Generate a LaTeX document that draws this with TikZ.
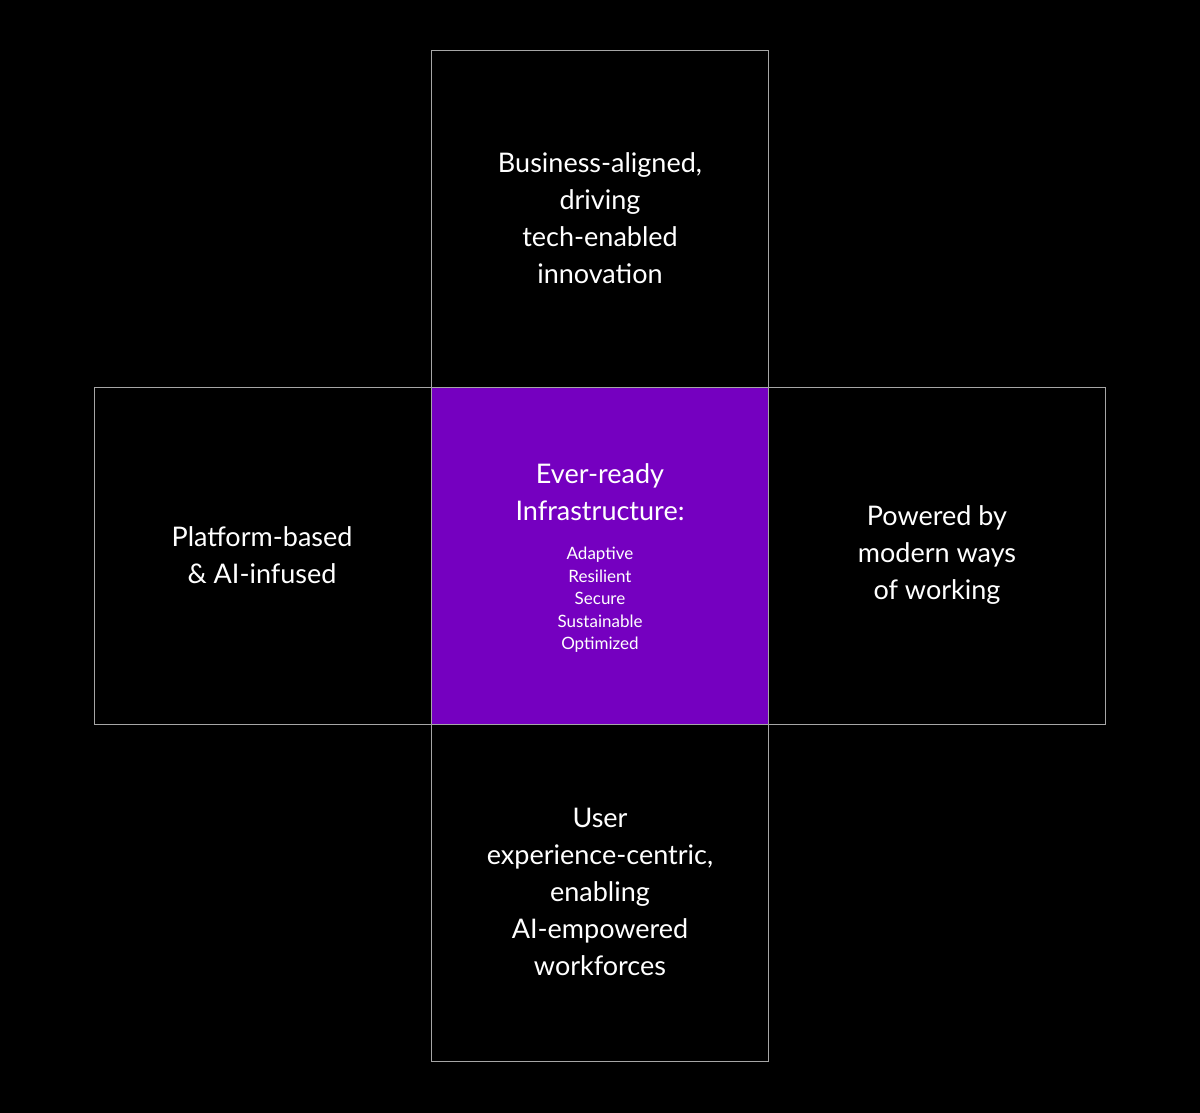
\documentclass[tikz,border=0pt]{standalone}
\usepackage{fontspec}
\setmainfont{Lato}
\definecolor{purp}{HTML}{7500C0}
\begin{document}
\begin{tikzpicture}[x=1pt,y=-1pt,
  cell/.style={draw=gray!70,line width=1pt,minimum width=337pt,minimum height=337pt,anchor=north west,inner sep=0pt},
  big/.style={text=white,align=center,font=\fontsize{27}{37}\selectfont},
  small/.style={text=white,align=center,font=\fontsize{17}{22.5}\selectfont}]
\fill[black] (0,0) rectangle (1200,1113);
\useasboundingbox (0,0) rectangle (1200,1113);
\node[cell] (top) at (431,50) {};
\node[cell] (left) at (94,387) {};
\node[cell] (right) at (768,387) {};
\node[cell] (bot) at (431,724) {};
\node[cell,fill=purp] (mid) at (431,387) {};
\node[big] (tt) at (600,218) {Business-aligned,\\driving\\tech-enabled\\innovation};
\node[big] (lt) at (262,555) {Platform-based\\\& AI-infused};
\node[big] (rt) at (937,555) {Powered by\\modern ways\\of working};
\node[big] (bt) at (600,892) {User\\experience-centric,\\enabling\\AI-empowered\\workforces};
\node[big] (mt) at (600,492) {Ever-ready\\Infrastructure:};
\node[small] (ms) at (600,600) {Adaptive\\Resilient\\Secure\\Sustainable\\Optimized};
\end{tikzpicture}
\end{document}
